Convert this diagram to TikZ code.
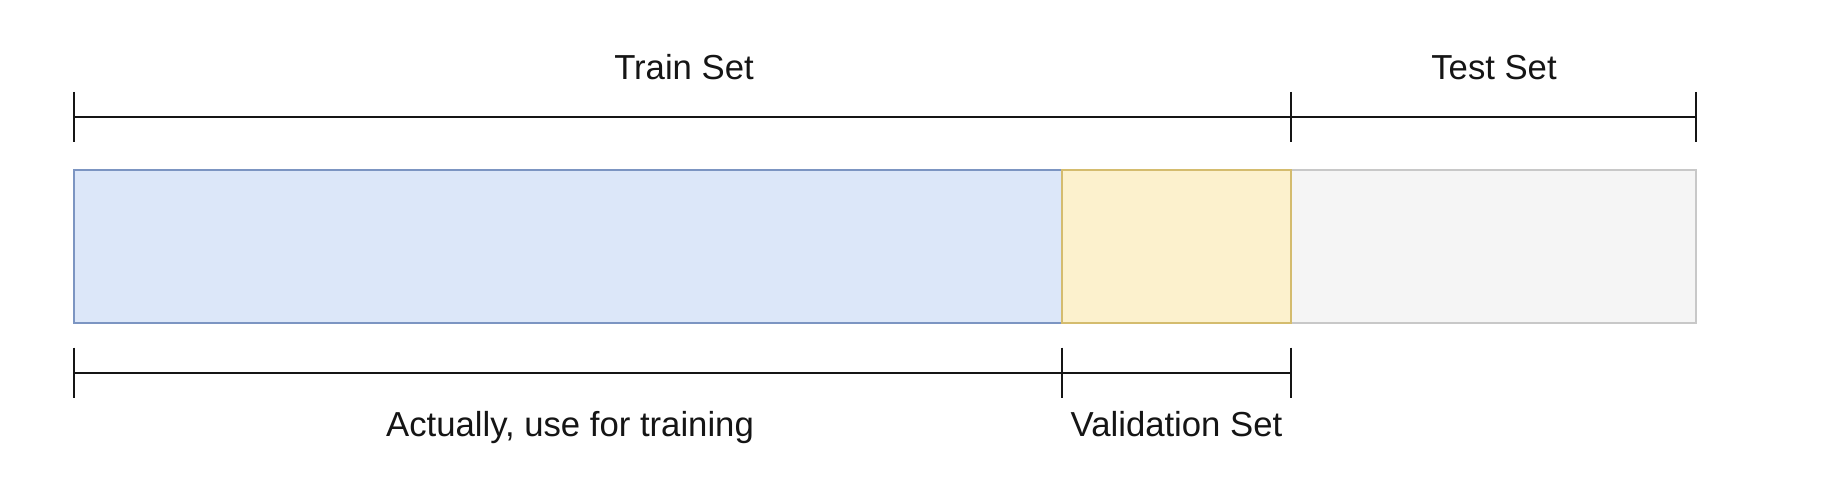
\documentclass[tikz,border=0pt]{standalone}
\usepackage{fontspec}
\setmainfont{Liberation Sans}
\definecolor{trainfill}{HTML}{DCE7F9}
\definecolor{trainline}{HTML}{7C95C2}
\definecolor{valfill}{HTML}{FCF1CD}
\definecolor{valline}{HTML}{D4BC6E}
\definecolor{testfill}{HTML}{F5F5F5}
\definecolor{testline}{HTML}{C8C8C8}
\definecolor{ink}{HTML}{151515}
\begin{document}
\begin{tikzpicture}[x=1pt,y=-1pt,
  seg/.style={draw, line width=1.6pt, inner sep=0pt, outer sep=0pt,
    minimum height=153pt, anchor=north west},
  bracket/.style={line width=2pt, draw=ink},
  lbl/.style={font=\fontsize{34.7}{40}\selectfont, text=ink, anchor=base, inner sep=0pt}]
\useasboundingbox[fill=white] (0,0) rectangle (1822,500);
% segments
\node[seg, fill=trainfill, draw=trainline, minimum width=988pt] (train) at (74,170) {};
\node[seg, fill=testfill, draw=testline, minimum width=405pt] (test) at (1291,170) {};
\node[seg, fill=valfill, draw=valline, minimum width=229pt] (val) at (1062,170) {};
% top bracket
\coordinate (ta) at (74,117);
\coordinate (tb) at (1291,117);
\coordinate (tc) at (1696,117);
\draw[bracket] (ta) -- (tb) -- (tc);
\foreach \p in {ta,tb,tc}
  \draw[bracket] ([yshift=25pt]\p) -- ([yshift=-25pt]\p);
% bottom bracket
\coordinate (ba) at (74,372.5);
\coordinate (bb) at (1062,372.5);
\coordinate (bc) at (1291,372.5);
\draw[bracket] (ba) -- (bb) -- (bc);
\foreach \p in {ba,bb,bc}
  \draw[bracket] ([yshift=25pt]\p) -- ([yshift=-25pt]\p);
% labels
\node[lbl] (trainlbl) at (684,80) {Train Set};
\node[lbl] (testlbl) at (1494,80) {Test Set};
\node[lbl] (uselbl) at (570,436) {Actually, use for training};
\node[lbl] (vallbl) at (1176.5,436) {Validation Set};
\end{tikzpicture}
\end{document}
